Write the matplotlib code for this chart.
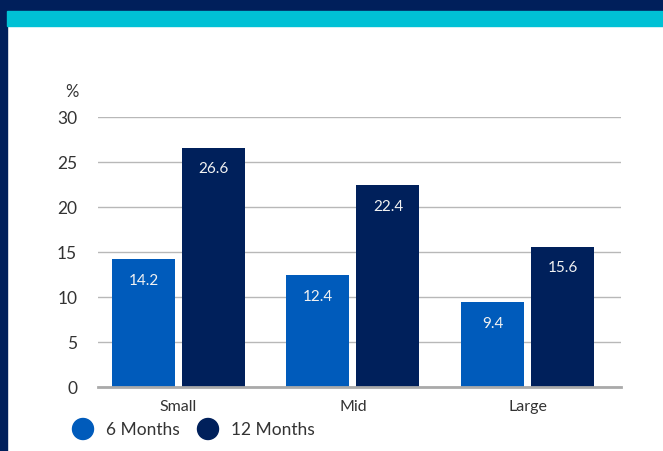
import matplotlib.pyplot as plt
import numpy as np
from matplotlib.patches import Rectangle, Ellipse

plt.rcParams['font.family'] = ['Lato', 'DejaVu Sans']

categories = ['Small', 'Mid', 'Large']
six_months = [14.2, 12.4, 9.4]
twelve_months = [26.6, 22.4, 15.6]
yticks = [0, 5, 10, 15, 20, 25, 30]

c_six = '#005bbb'
c_twelve = '#00205b'
c_navy = '#001f5b'
c_cyan = '#00c1d5'
c_text = '#333333'

W, H = 663, 452
fig = plt.figure(figsize=(W / 100, H / 100), dpi=100)
fig.patch.set_facecolor('white')

# frame: navy edge on top and left, cyan band under it
fig.patches.append(Rectangle((0, 1 - 12 / H), 1, 12 / H, transform=fig.transFigure,
                             color=c_navy, zorder=0))
fig.patches.append(Rectangle((0, 0), 7 / W, 1, transform=fig.transFigure,
                             color=c_navy, zorder=0))
fig.patches.append(Rectangle((7 / W, 1 - 27 / H), 1, 15 / H, transform=fig.transFigure,
                             color=c_cyan, zorder=0))

ax = fig.add_axes([98 / W, 64 / H, 523 / W, 270 / H])
x = np.arange(len(categories))
w = 0.361
off = 0.2006

b1 = ax.bar(x - off, six_months, w, color=c_six, zorder=3)
b2 = ax.bar(x + off, twelve_months, w, color=c_twelve, zorder=3)

for bars, vals in ((b1, six_months), (b2, twelve_months)):
    for bar, v in zip(bars, vals):
        ax.text(bar.get_x() + bar.get_width() / 2, v - 2.3, f'{v}', color='#f2f2f2',
                ha='center', va='center', fontsize=11, zorder=4)

ax.set_xlim(-0.461, 2.536)
ax.set_ylim(0, 30)
ax.set_yticks(yticks)
ax.set_xticks(x)
ax.set_xticklabels(categories)
ax.yaxis.grid(True, color='#b8b8b8', linewidth=1)
ax.set_axisbelow(True)
for s in ['top', 'right', 'left']:
    ax.spines[s].set_visible(False)
ax.spines['bottom'].set_color('#aaaaaa')
ax.spines['bottom'].set_linewidth(2)
ax.spines['bottom'].set_zorder(5)
ax.tick_params(axis='y', length=0, pad=15, labelsize=12.5, labelcolor=c_text)
ax.tick_params(axis='x', length=0, pad=9, labelsize=11.5, labelcolor=c_text)

fig.text(72 / W, 1 - 92 / H, '%', ha='center', va='center', fontsize=12, color=c_text)

# legend
for cx, col, lab in ((83, c_six, '6 Months'), (208, c_twelve, '12 Months')):
    fig.patches.append(Ellipse((cx / W, 1 - 430 / H), 21 / W, 21 / H,
                               transform=fig.transFigure, color=col, zorder=3))
    fig.text((cx + 23) / W, 1 - 430 / H, lab, ha='left', va='center',
             fontsize=12.5, color=c_text)

fig.savefig('out.png', dpi=100)
